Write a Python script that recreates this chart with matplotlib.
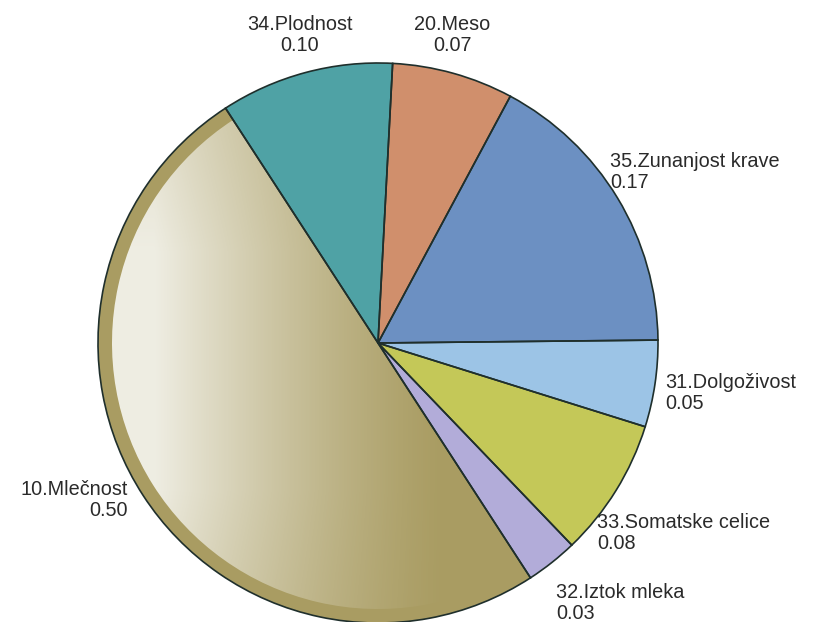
import numpy as np
import matplotlib.pyplot as plt
from matplotlib.patches import Wedge

# data, clockwise starting from the top
names = ['20.Meso', '35.Zunanjost krave', '31.Dolgoživost', '33.Somatske celice',
         '32.Iztok mleka', '10.Mlečnost', '34.Plodnost']
shares = [0.07, 0.17, 0.05, 0.08, 0.03, 0.50, 0.10]
colors = ['#d08f6c', '#6c90c2', '#9cc4e6', '#c4c858', '#b2acd9', '#a99c62', '#4fa2a5']

# label placement in pixels (x, y, ha)
cx, cy, R = 378, 343, 280
label_px = [(452, 35, 'center'), (610, 172, 'left'), (665, 393, 'left'),
            (597, 533, 'left'), (556, 603, 'left'), (128, 500, 'right'),
            (300, 35, 'center')]

plt.rcParams['font.family'] = ['Liberation Sans', 'DejaVu Sans']

fig = plt.figure(figsize=(8.19, 6.22), dpi=100)
ax = fig.add_axes([0, 0, 1, 1])

wedges, _ = ax.pie(shares, colors=colors, startangle=87, counterclock=False,
                   radius=1, center=(0, 0), frame=True,
                   wedgeprops=dict(edgecolor='none', linewidth=0))

# shiny highlight on the big slice
big = wedges[5]
inner = Wedge((0.0, 0.0), 0.95, big.theta1, big.theta2 - 1.5,
              transform=ax.transData, facecolor='none', edgecolor='none')
ax.add_patch(inner)
xs = np.linspace(-1, 0.3, 400)
ys = np.linspace(-1, 1, 400)
X, Y = np.meshgrid(xs, ys)
a = np.clip((0.25 - X) / 1.05, 0, 1) ** 1.3 * 0.9
a *= np.clip(1.15 - 0.35 * np.abs(Y + 0.1), 0, 1)
img = np.zeros((400, 400, 4))
img[..., :3] = [0.97, 0.97, 0.95]
img[..., 3] = a
im = ax.imshow(img, extent=(-1, 0.3, -1, 1), origin='lower', zorder=3,
               interpolation='bilinear')
im.set_clip_path(inner)

# outlines on top
for w in wedges:
    ax.add_patch(Wedge((0, 0), 1, w.theta1, w.theta2, facecolor='none',
                       edgecolor='#1f2f2c', linewidth=1.2, zorder=4))

ax.set_xlim(-cx / R, (819 - cx) / R)
ax.set_ylim(-(622 - cy) / R, cy / R)
ax.set_aspect('equal')
ax.axis('off')

for (px, py, ha), name, v in zip(label_px, names, shares):
    ax.text((px - cx) / R, (cy - py) / R, f'{name}\n{v:.2f}', ha=ha, va='center',
            multialignment=ha, fontsize=14.3, color='#2a2a2a', linespacing=1.1)

fig.savefig('out.png', dpi=100)
